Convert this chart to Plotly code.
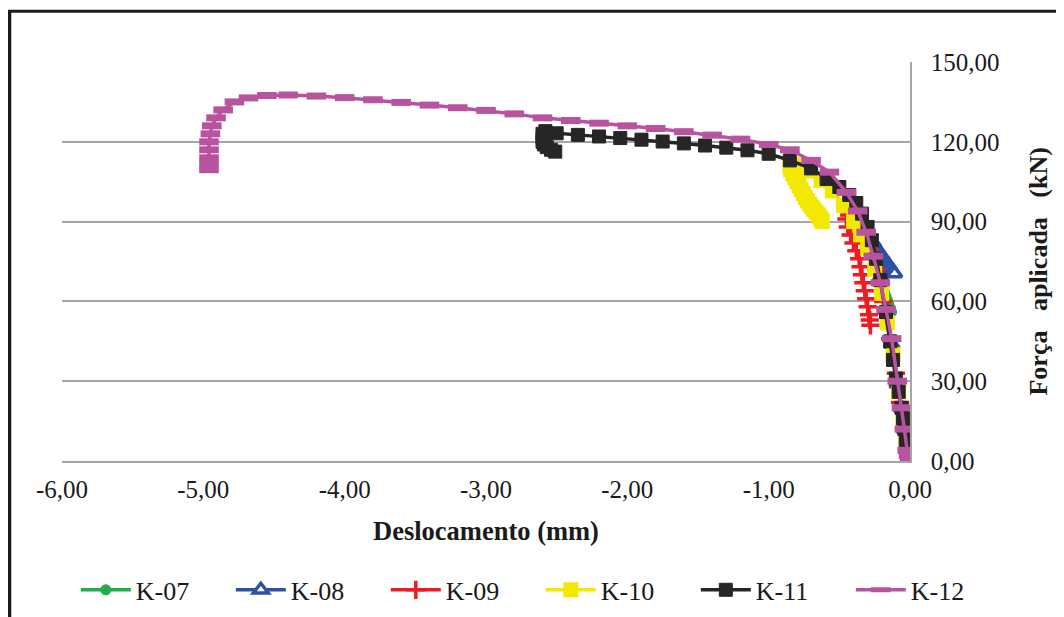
import plotly.graph_objects as go

# ---- data ----
k07_x = [0, -0.02, -0.04, -0.06, -0.09, -0.13, -0.17, -0.20, -0.22, -0.21, -0.20, -0.18, -0.17, -0.16, -0.15, -0.14, -0.13]
k07_y = [0, 5, 12, 20, 30, 44, 56, 63, 67, 66.5, 65, 63.5, 62, 60.5, 59, 57.5, 56]

k08_x = [0, -0.01, -0.02, -0.04, -0.06, -0.09, -0.13, -0.17, -0.21, -0.24, -0.26, -0.255, -0.245, -0.23, -0.22, -0.205, -0.19, -0.18, -0.165, -0.15, -0.14, -0.125, -0.11]
k08_y = [0, 1, 5, 12, 20, 29, 44, 57, 69, 77, 82, 81.5, 80.5, 79.5, 78.5, 77.5, 76.5, 75.5, 74.5, 73.5, 72.5, 71.5, 70.5]

k09_x = [0, -0.02, -0.04, -0.07, -0.10, -0.14, -0.19, -0.24, -0.29, -0.34, -0.39, -0.43, -0.45, -0.44, -0.42, -0.40, -0.38, -0.36, -0.35, -0.34, -0.33, -0.32, -0.31, -0.30, -0.29, -0.285, -0.28]
k09_y = [0, 5, 12, 22, 33, 46, 60, 72, 80, 86, 90, 92.5, 91, 88, 85, 82, 79, 76, 73, 70, 67, 64, 61, 58, 55, 53, 51]

k10_x = [0, -0.01, -0.03, -0.05, -0.08, -0.12, -0.16, -0.20, -0.25, -0.30, -0.35, -0.40, -0.47, -0.55, -0.63, -0.72, -0.79, -0.83, -0.85, -0.845, -0.83, -0.815, -0.80, -0.785, -0.77, -0.755, -0.74, -0.725, -0.71, -0.695, -0.68, -0.665, -0.65, -0.64, -0.63, -0.625, -0.62]
k10_y = [0, 3, 8, 15, 26, 40, 52, 63, 72, 80, 85, 90, 96, 101.5, 105.5, 109, 111, 111.5, 111, 109.5, 108, 106.5, 105, 103.5, 102, 100.5, 99, 97.8, 96.6, 95.5, 94.5, 93.5, 92.6, 91.8, 91, 90.5, 90]

k11_x = [0, -0.01, -0.02, -0.03, -0.04, -0.05, -0.06, -0.08, -0.10, -0.12, -0.14, -0.17, -0.21, -0.24, -0.27, -0.30, -0.34, -0.38, -0.43, -0.50, -0.59, -0.70, -0.85,
         -1.00, -1.15, -1.30, -1.45, -1.60, -1.75, -1.90, -2.05, -2.20, -2.35, -2.50, -2.58, -2.60, -2.60, -2.60, -2.59, -2.57, -2.54, -2.51]
k11_y = [0, 2, 5, 8, 12, 16, 20, 26, 31, 38, 45, 56, 68, 76, 83, 88, 93, 97, 100, 103, 106, 110, 113,
         115.5, 116.8, 117.8, 118.6, 119.4, 120.1, 120.8, 121.4, 122, 122.6, 123.2, 124, 123, 121.5, 120, 119, 118, 117, 116.3]

k12_x = [0, -0.01, -0.02, -0.04, -0.06, -0.09, -0.13, -0.17, -0.21, -0.26, -0.31, -0.37, -0.45, -0.57, -0.70, -0.85,
         -1.00, -1.20, -1.40, -1.60, -1.80, -2.00, -2.20, -2.40, -2.60, -2.80, -3.00, -3.20, -3.40, -3.60, -3.80, -4.00,
         -4.20, -4.40, -4.55, -4.68, -4.78, -4.86, -4.91, -4.94, -4.95, -4.96, -4.96, -4.96, -4.96, -4.96]
k12_y = [0, 2, 4, 12, 20, 30, 46, 57, 67, 77, 86, 94, 101, 108.6, 113, 117,
         119, 121, 122.5, 123.8, 125, 126, 127, 128, 129, 130.5, 131.8, 132.8, 133.8, 134.8, 135.8, 136.6,
         137.2, 137.6, 137.4, 136.5, 135, 132, 129, 126, 123, 120, 117, 114, 111.5, 109.5]

x_ticks = [-6, -5, -4, -3, -2, -1, 0]
x_tick_text = ["-6,00", "-5,00", "-4,00", "-3,00", "-2,00", "-1,00", "0,00"]
y_ticks = [0, 30, 60, 90, 120, 150]
y_tick_text = ["0,00", "30,00", "60,00", "90,00", "120,00", "150,00"]

FONT = "Liberation Serif, Times New Roman, serif"
GAP = "\u00a0\u00a0 "

fig = go.Figure()

fig.add_trace(go.Scatter(x=k07_x, y=k07_y, name="K-07", mode="lines+markers",
                         line=dict(color="#21ad4b", width=3.5),
                         marker=dict(symbol="circle", size=11, color="#21ad4b")))
fig.add_trace(go.Scatter(x=k08_x, y=k08_y, name="K-08", mode="lines+markers",
                         line=dict(color="#2e51a2", width=3.5),
                         marker=dict(symbol="triangle-up", size=13, color="white",
                                     line=dict(color="#2e51a2", width=3.5))))
fig.add_trace(go.Scatter(x=k09_x, y=k09_y, name="K-09", mode="lines+markers",
                         line=dict(color="#ec1c24", width=3.5),
                         marker=dict(symbol="cross-thin", size=13,
                                     line=dict(color="#ec1c24", width=3.5))))
fig.add_trace(go.Scatter(x=k10_x, y=k10_y, name="K-10", mode="lines+markers",
                         line=dict(color="#f3e900", width=3.5),
                         marker=dict(symbol="square", size=15, color="#f3e900")))
fig.add_trace(go.Scatter(x=k11_x, y=k11_y, name="K-11", mode="lines+markers",
                         line=dict(color="#262626", width=3.5),
                         marker=dict(symbol="square", size=13, color="#262626",
                                     line=dict(color="#262626", width=1))))
fig.add_trace(go.Scatter(x=k12_x, y=k12_y, name="K-12", mode="lines+markers",
                         line=dict(color="#b8549f", width=3.5),
                         marker=dict(symbol="line-ew", size=14,
                                     line=dict(color="#b8549f", width=7))))

fig.update_layout(
    width=1056, height=609,
    margin=dict(l=54, r=154, t=54, b=156, autoexpand=False),
    paper_bgcolor="white", plot_bgcolor="white",
    font=dict(family=FONT, color="#1a1a1a", size=22),
    showlegend=True,
    legend=dict(orientation="h", x=1.113, xanchor="right", y=-0.323, yanchor="middle",
                font=dict(family=FONT, size=26, color="#1a1a1a"),
                entrywidth=90, entrywidthmode="pixels", itemwidth=50,
                bgcolor="rgba(0,0,0,0)"),
    xaxis=dict(range=[-6, 0], tickvals=x_ticks, ticktext=x_tick_text, automargin=False,
               showgrid=False, zeroline=False, showline=True, linecolor="#a6a6a6", linewidth=1.5,
               ticks="", ticklabelstandoff=5,
               tickfont=dict(family=FONT, size=25, color="#1a1a1a"),
               title=dict(text="<b>Deslocamento (mm)</b>", standoff=20,
                          font=dict(family=FONT, size=26.5, color="#1a1a1a"))),
    yaxis=dict(range=[0, 150], tickvals=y_ticks, ticktext=y_tick_text, side="right", automargin=False,
               showgrid=True, gridcolor="#a6a6a6", gridwidth=1.5,
               zeroline=False, showline=True, linecolor="#a6a6a6", linewidth=1.5,
               ticks="", ticklabelstandoff=14,
               tickfont=dict(family=FONT, size=25, color="#1a1a1a")),
)

# y-axis title
fig.add_annotation(xref="paper", yref="paper", x=1.151, y=0.475, xanchor="center", yanchor="middle",
                   text="<b>Força" + GAP + "aplicada" + GAP + "(kN)</b>", textangle=-90, showarrow=False,
                   font=dict(family=FONT, size=26, color="#1a1a1a"))

# outer frame (left and top edges visible in the reference)
fig.add_shape(type="line", xref="paper", yref="paper", x0=-0.0619, x1=-0.0619, y0=1.127, y1=-0.42,
              line=dict(color="#1a1a1a", width=3.5))
fig.add_shape(type="line", xref="paper", yref="paper", x0=-0.064, x1=1.2, y0=1.127, y1=1.127,
              line=dict(color="#1a1a1a", width=3))

fig.write_html("out.html")
